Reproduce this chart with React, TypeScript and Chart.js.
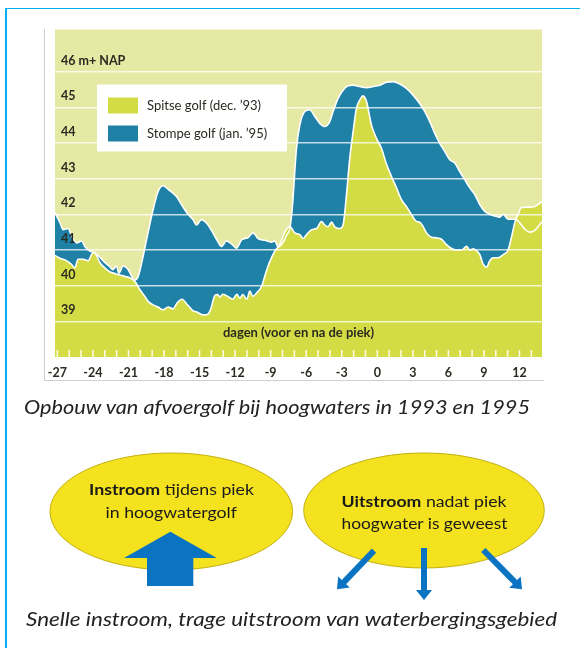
import React, { useEffect, useRef } from 'react';
import { Chart, registerables } from 'chart.js';

Chart.register(...registerables);

// ---- data ----
const stompeDays = [
  -27.2, -26.79, -26.51, -26.09, -25.81, -25.38, -24.96, -24.68, -24.26, -23.84,
  -23.42, -23.0, -22.57, -22.32, -22.01, -21.81, -21.45, -21.03, -20.74, -20.46,
  -20.19, -19.76, -19.34, -18.92, -18.5, -18.08, -17.65, -16.95, -16.52, -15.97,
  -15.54, -15.26, -14.84, -14.41, -13.99, -13.57, -13.15, -12.73, -12.3, -11.88,
  -11.46, -10.9, -10.48, -10.06, -9.49, -8.93, -8.65, -8.37, -7.97, -7.64,
  -7.38, -7.17, -6.82, -6.54, -6.12, -5.7, -5.27, -4.85, -4.43, -4.01,
  -3.73, -3.31, -2.89, -2.46, -2.04, -1.48, -0.91, -0.35, 0.21, 0.78,
  1.33, 1.9, 2.46, 3.02, 3.59, 4.01, 4.43, 4.85, 5.27, 5.7,
  6.12, 6.54, 6.96, 7.38, 7.81, 8.23, 8.65, 9.07, 9.49, 9.92,
  10.34, 10.62, 11.04, 11.46, 11.77, 12.11, 12.45, 12.87, 13.29, 13.9,
];
const stompeLevels = [
  42.05, 41.77, 41.57, 41.6, 41.4, 41.2, 41.25, 41.1, 40.97, 40.92,
  40.8, 40.65, 40.53, 40.45, 40.55, 40.35, 40.55, 40.45, 40.27, 40.16,
  40.25, 40.83, 41.5, 42.13, 42.64, 42.8, 42.7, 42.5, 42.27, 42.0,
  41.85, 41.7, 41.85, 41.75, 41.55, 41.3, 41.1, 41.25, 41.17, 41.05,
  41.28, 41.35, 41.48, 41.32, 41.27, 41.22, 41.25, 41.08, 41.2, 41.42,
  41.6, 42.2, 43.85, 44.5, 44.88, 44.93, 44.74, 44.55, 44.46, 44.6,
  44.88, 45.25, 45.48, 45.6, 45.62, 45.58, 45.55, 45.58, 45.62, 45.7,
  45.72, 45.65, 45.53, 45.34, 45.1, 44.88, 44.6, 44.27, 43.99, 43.76,
  43.53, 43.44, 43.2, 42.97, 42.74, 42.55, 42.27, 42.08, 42.0, 41.95,
  41.92, 42.0, 41.86, 41.86, 41.85, 41.72, 41.58, 41.5, 41.55, 41.8,
];
const spitseDays = [
  -27.2, -26.79, -26.23, -25.81, -25.53, -25.25, -24.83, -24.41, -23.98, -23.7,
  -23.42, -23.0, -22.57, -22.15, -21.73, -21.31, -20.89, -20.46, -20.04, -19.62,
  -19.34, -18.92, -18.5, -18.08, -17.65, -17.23, -16.92, -16.5, -15.99, -15.57,
  -15.15, -14.73, -14.3, -14.05, -13.71, -13.46, -13.29, -13.04, -12.62, -12.19,
  -11.86, -11.6, -11.35, -11.01, -10.76, -10.51, -10.17, -9.75, -9.49, -9.22,
  -8.93, -8.65, -8.23, -7.81, -7.38, -6.96, -6.54, -6.26, -5.97, -5.55,
  -5.13, -4.71, -4.43, -4.15, -3.86, -3.59, -3.16, -2.89, -2.6, -2.32,
  -2.04, -1.76, -1.48, -1.2, -0.91, -0.49, -0.07, 0.35, 0.78, 1.2,
  1.62, 2.04, 2.46, 2.89, 3.31, 3.59, 3.86, 4.15, 4.57, 5.0,
  5.42, 5.84, 6.26, 6.68, 7.11, 7.53, 7.81, 8.08, 8.37, 8.65,
  8.93, 9.22, 9.49, 9.77, 10.19, 10.62, 11.04, 11.32, 11.6, 11.88,
  12.17, 12.73, 13.29, 13.9,
];
const spitseLevels = [
  40.85, 40.77, 40.7, 40.6, 40.5, 40.74, 40.74, 40.7, 40.93, 40.85,
  40.65, 40.5, 40.39, 40.34, 40.3, 40.26, 40.22, 40.12, 39.89, 39.7,
  39.56, 39.46, 39.4, 39.32, 39.4, 39.35, 39.5, 39.62, 39.45, 39.3,
  39.25, 39.18, 39.2, 39.35, 39.72, 39.75, 39.68, 39.76, 39.7, 39.62,
  39.76, 39.65, 39.75, 39.62, 39.85, 39.7, 39.8, 39.99, 40.27, 40.55,
  40.78, 40.97, 41.15, 41.5, 41.66, 41.48, 41.43, 41.32, 41.43, 41.57,
  41.6, 41.8, 41.7, 41.65, 41.78, 41.65, 41.6, 41.7, 42.55, 43.58,
  44.32, 44.97, 45.2, 45.32, 45.16, 44.5, 44.13, 43.85, 43.4, 43.06,
  42.74, 42.41, 42.22, 41.99, 41.8, 41.78, 41.66, 41.48, 41.36, 41.34,
  41.3, 41.15, 41.04, 41.0, 41.0, 41.1, 41.0, 41.03, 40.98, 40.87,
  40.6, 40.52, 40.7, 40.78, 40.78, 40.87, 41.0, 41.35, 41.76, 42.0,
  42.19, 42.2, 42.22, 42.36,
];
const seriesLabels = ['Spitse golf (dec. ’93)', 'Stompe golf (jan. ’95)'];
const yTickValues = [39, 40, 41, 42, 43, 44, 45, 46];
const yTickLabels = ['39', '40', '41', '42', '43', '44', '45', '46 m+ NAP'];
const xLabelDays = [-27, -24, -21, -18, -15, -12, -9, -6, -3, 0, 3, 6, 9, 12];
const xMinorDays = [
  -27, -26, -25, -24, -23, -22, -21, -20, -19, -18, -17, -16, -15, -14, -13, -12, -11, -10,
  -9, -8, -7, -6, -5, -4, -3, -2, -1, 0, 1, 2, 3, 4, 5, 6, 7, 8, 9, 10, 11, 12, 13,
];
const xAxisTitle = 'dagen (voor en na de piek)';
const caption1 = 'Opbouw van afvoergolf bij hoogwaters in 1993 en 1995';
const caption2 = 'Snelle instroom, trage uitstroom van waterbergingsgebied';

// ---- styles ----
const LIGHT = '#e6e9a3';
const YELLOW = '#d4dc45';
const BLUE = '#1f81a6';
const TEXT = '#2a2a22';
const FONT = 'Lato, "Open Sans", sans-serif';

const bgPlugin = {
  id: 'plotBg',
  beforeDraw(chart: any) {
    const { ctx, chartArea: a } = chart;
    ctx.save();
    ctx.fillStyle = LIGHT;
    ctx.fillRect(a.left, a.top, a.right - a.left, a.bottom - a.top);
    ctx.restore();
  },
};

const overlayPlugin = {
  id: 'overlay',
  afterDraw(chart: any) {
    const { ctx, chartArea: a } = chart;
    const xs = chart.scales.x;
    ctx.save();
    // minor day ticks inside bottom of plot
    ctx.strokeStyle = 'rgba(255,255,255,0.9)';
    ctx.lineWidth = 1.5;
    xMinorDays.forEach((d) => {
      const px = xs.getPixelForValue(d);
      ctx.beginPath();
      ctx.moveTo(px, a.bottom - 7);
      ctx.lineTo(px, a.bottom);
      ctx.stroke();
    });
    // axis title inside plot
    ctx.fillStyle = TEXT;
    ctx.font = `bold 13px ${FONT}`;
    ctx.textAlign = 'center';
    ctx.textBaseline = 'middle';
    ctx.fillText(xAxisTitle, (a.left + a.right) / 2, a.bottom - 24);
    // legend
    const ds = chart.data.datasets;
    const bx = a.left + 42;
    const by = a.top + 55;
    ctx.fillStyle = '#ffffff';
    ctx.fillRect(bx, by, 190, 67);
    const items = [ds[0], ds[1]];
    items.forEach((d: any, i: number) => {
      const sy = by + 13 + i * 28;
      ctx.fillStyle = d.backgroundColor;
      ctx.fillRect(bx + 11, sy, 30, 16);
      ctx.fillStyle = TEXT;
      ctx.font = `13px ${FONT}`;
      ctx.textAlign = 'left';
      ctx.textBaseline = 'middle';
      ctx.fillText(d.label, bx + 50, sy + 8);
    });
    ctx.restore();
  },
};

function arrowHead(x1: number, y1: number, x2: number, y2: number, len: number, half: number) {
  const dx = x2 - x1;
  const dy = y2 - y1;
  const l = Math.hypot(dx, dy);
  const ux = dx / l;
  const uy = dy / l;
  const bx = x2 - ux * len;
  const by = y2 - uy * len;
  const px = -uy;
  const py = ux;
  return {
    shaftEnd: [bx + ux * 1, by + uy * 1],
    points: `${bx + px * half},${by + py * half} ${x2},${y2} ${bx - px * half},${by - py * half}`,
  };
}

function ThinArrow({ x1, y1, x2, y2 }: { x1: number; y1: number; x2: number; y2: number }) {
  const h = arrowHead(x1, y1, x2, y2, 10, 8);
  return (
    <g>
      <line x1={x1} y1={y1} x2={h.shaftEnd[0]} y2={h.shaftEnd[1]} stroke="#0a73c2" strokeWidth={6} />
      <polygon points={h.points} fill="#0a73c2" />
    </g>
  );
}

export default function App() {
  const ref = useRef<HTMLCanvasElement | null>(null);

  useEffect(() => {
    if (!ref.current) return;
    const stompePts = stompeDays.map((d, i) => ({ x: d, y: stompeLevels[i] }));
    const spitsePts = spitseDays.map((d, i) => ({ x: d, y: spitseLevels[i] }));
    const chart = new Chart(ref.current, {
      type: 'line',
      data: {
        datasets: [
          {
            label: seriesLabels[0],
            data: spitsePts,
            backgroundColor: YELLOW,
            borderColor: '#ffffff',
            borderWidth: 1.6,
            fill: 'start',
            pointRadius: 0,
            cubicInterpolationMode: 'monotone',
            order: 2,
          },
          {
            label: seriesLabels[1],
            data: stompePts,
            backgroundColor: BLUE,
            borderColor: 'rgba(0,0,0,0)',
            borderWidth: 0,
            fill: 'start',
            pointRadius: 0,
            cubicInterpolationMode: 'monotone',
            order: 3,
          },
          {
            label: 'outline',
            data: stompePts,
            borderColor: '#ffffff',
            borderWidth: 1.6,
            fill: false,
            pointRadius: 0,
            cubicInterpolationMode: 'monotone',
            order: 1,
          },
        ],
      } as any,
      options: {
        animation: false,
        responsive: false,
        events: [],
        layout: { padding: { left: 11, top: 5.5, right: 8, bottom: 0 } },
        plugins: { legend: { display: false }, tooltip: { enabled: false } },
        scales: {
          x: {
            type: 'linear',
            min: -27.2,
            max: 13.9,
            grid: { display: false, drawTicks: false },
            border: { display: false },
            afterBuildTicks: (s: any) => {
              s.ticks = xLabelDays.map((v) => ({ value: v }));
            },
            afterFit: (s: any) => {
              s.height = 28;
              s.paddingLeft = 0;
              s.paddingRight = 0;
            },
            ticks: {
              autoSkip: false,
              maxRotation: 0,
              padding: 8,
              color: TEXT,
              font: { family: FONT, size: 12.5, weight: 'bold' },
              callback: (v: any) => String(v),
            },
          },
          y: {
            type: 'linear',
            min: 38.0,
            max: 47.18,
            afterBuildTicks: (s: any) => {
              s.ticks = yTickValues.map((v) => ({ value: v }));
            },
            afterFit: (s: any) => {
              s.width = 0;
              s.paddingTop = 0;
              s.paddingBottom = 0;
            },
            grid: { color: 'rgba(255,255,255,0.75)', lineWidth: 1.5, drawTicks: false, z: 1 },
            border: { display: false },
            ticks: {
              mirror: true,
              padding: 6,
              labelOffset: -11,
              z: 2,
              color: TEXT,
              font: { family: FONT, size: 12.5, weight: 'bold' },
              callback: (v: any) => {
                const i = yTickValues.indexOf(Number(v));
                return i >= 0 ? yTickLabels[i] : '';
              },
            },
          },
        },
      } as any,
      plugins: [bgPlugin, overlayPlugin],
    });
    return () => chart.destroy();
  }, []);

  const big = '124,558 170.4,531.7 216.7,558 193.3,558 193.3,586 147,586 147,558';

  return (
    <div style={{ position: 'absolute', left: 0, top: 0, width: 580, height: 648, background: '#fff', overflow: 'hidden' }}>
      {/* outer frame */}
      <div style={{ position: 'absolute', left: 5, top: 7.5, width: 575, height: 1.5, background: '#00b0f0' }} />
      <div style={{ position: 'absolute', left: 5, top: 7.5, width: 1.5, height: 641, background: '#00b0f0' }} />
      {/* chart panel border */}
      <div style={{ position: 'absolute', left: 44, top: 29, width: 1, height: 352, background: '#cfcfcf' }} />
      <div style={{ position: 'absolute', left: 44, top: 380, width: 500, height: 1, background: '#cfcfcf' }} />
      <canvas ref={ref} width={506} height={361} style={{ position: 'absolute', left: 44, top: 24, width: 506, height: 361 }} />
      <svg width={580} height={648} style={{ position: 'absolute', left: 0, top: 0 }}>
        <text x={24} y={414} textLength={506} lengthAdjust="spacingAndGlyphs" fontFamily={FONT} fontStyle="italic" fontSize={18.5} fill="#222">
          {caption1}
        </text>
        <ellipse cx={171.3} cy={511.5} rx={121.3} ry={58.5} fill="#f4e21e" stroke="#c2b010" strokeWidth={1} />
        <ellipse cx={424} cy={510.5} rx={120.3} ry={57.5} fill="#f4e21e" stroke="#c2b010" strokeWidth={1} />
        <text x={89} y={495} textLength={165} lengthAdjust="spacingAndGlyphs" fontFamily={FONT} fontSize={15.5} fill="#1a1a1a">
          <tspan fontWeight="bold">Instroom</tspan> tijdens piek
        </text>
        <text x={105.5} y={517.5} textLength={131.5} lengthAdjust="spacingAndGlyphs" fontFamily={FONT} fontSize={15.5} fill="#1a1a1a">
          in hoogwatergolf
        </text>
        <text x={341.5} y={507} textLength={165} lengthAdjust="spacingAndGlyphs" fontFamily={FONT} fontSize={15.5} fill="#1a1a1a">
          <tspan fontWeight="bold">Uitstroom</tspan> nadat piek
        </text>
        <text x={341.5} y={528.5} textLength={166} lengthAdjust="spacingAndGlyphs" fontFamily={FONT} fontSize={15.5} fill="#1a1a1a">
          hoogwater is geweest
        </text>
        <polygon points={big} fill="#0a73c2" />
        <ThinArrow x1={374} y1={550.7} x2={337} y2={589.3} />
        <ThinArrow x1={424} y1={548} x2={424} y2={600} />
        <ThinArrow x1={483.3} y1={550} x2={522} y2={589.3} />
        <text x={26} y={626} textLength={531} lengthAdjust="spacingAndGlyphs" fontFamily={FONT} fontStyle="italic" fontSize={18.5} fill="#222">
          {caption2}
        </text>
      </svg>
    </div>
  );
}
